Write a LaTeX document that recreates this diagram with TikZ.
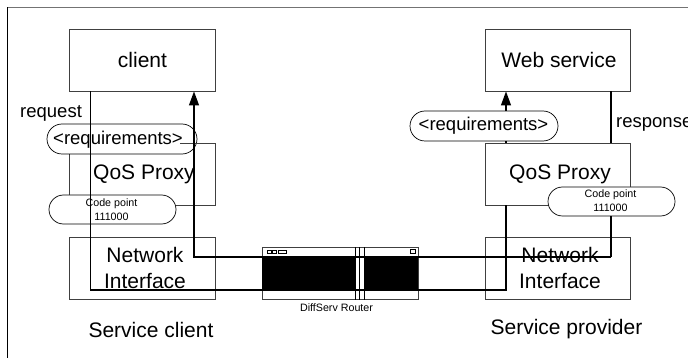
\documentclass[tikz,border=0pt]{standalone}
\usepackage{fontspec}
\setmainfont{Liberation Sans}
\usetikzlibrary{arrows.meta,shapes.misc}
\newcommand{\fs}[1]{\fontsize{#1}{#1}\selectfont}
\tikzset{
  box/.style={draw=black!75,line width=0.9pt,fill=white,minimum width=145.5pt,minimum height=62pt,inner sep=0pt,align=center,font=\fs{20}},
  pill/.style={draw=black,line width=0.7pt,fill=white,rounded rectangle,rounded rectangle arc length=180,inner sep=0pt,align=center},
  reqpill/.style={pill,minimum width=150pt,minimum height=30pt,font=\fs{18.5}},
  codepill/.style={pill,minimum width=127pt,minimum height=29pt},
  link/.style={draw=black,line width=1.3pt},
  up/.style={link,-{Triangle[length=14pt,width=10pt]}},
  lbl/.style={inner sep=0pt,font=\fs{18.5}},
  small/.style={inner sep=0pt,font=\fs{10.7}},
  big/.style={inner sep=0pt,font=\fs{21},align=center},
}
\begin{document}
\begin{tikzpicture}[x=1pt,y=-1pt]
\useasboundingbox (0,0) rectangle (688,358);
\fill[white] (0,0) rectangle (688,358);
\draw[black!55,line width=1.5pt] (7.5,7.5) -- (688,7.5);
\draw[black,line width=0.9pt] (7.5,358) -- (7.5,7);
% boxes
\node[box] (client) at (142.5,60) {};
\node[box] (qosl) at (142.5,174) {};
\node[box] (netl) at (142.5,268) {};
\node[box] (web) at (558,60) {};
\node[box] (qosr) at (558,174) {};
\node[box] (netr) at (558,268) {};
% router
\node[draw=black!75,line width=0.9pt,fill=white,minimum width=156pt,minimum height=52.5pt,inner sep=0pt] (router) at (340,273.25) {};
\fill[black] (262,256) rectangle (355,291);
\fill[black] (364,256) rectangle (418,291);
\foreach \xa/\xb in {267/271,272.5/276.5,278/286.5}{\draw[black,line width=0.8pt] (\xa,250.5) rectangle (\xb,253);}
\draw[black,line width=0.8pt] (410,249) rectangle (415,253.5);
\draw[black,line width=0.8pt] (355,247) -- (355,299.5) (359.5,247) -- (359.5,299.5) (364,247) -- (364,299.5);
\draw[black!75,line width=0.9pt] (262,256) -- (418,256);
% pills
\node[reqpill] (reql) at (122,139) {};
\node[reqpill,minimum width=148pt] (reqr) at (484,126) {\hspace*{-1pt}<requirements>};
\node[codepill] (codel) at (112.5,209.5) {};
\draw[black!75,line width=0.9pt] (180,143) -- (215,143);
% connectors
\coordinate (a1) at (90.5,290);
\coordinate (a2) at (506,290);
\coordinate (b1) at (194,257);
\coordinate (b2) at (611,257);
\draw[link] (client.south -| a1) -- (a1) -- (a2) -- (qosr.south -| a2);
\draw[up] (b2) -- (b1) -- (client.south -| b1);
\draw[up] (reqr.north -| a2) -- (web.south -| a2);
\draw[link] (qosr.north -| a2) -- (reqr.south -| a2);
\draw[link] (web.south -| b2) -- (qosr.north -| b2);
\node[codepill] (coder) at (611.5,201.5) {};
\draw[link] (coder.south -| b2) -- (b2);
% texts
\node[big] at (client.center) {client};
\node[big] at (559,60) {Web service};
\node[big] at (144,174) {QoS Proxy};
\node[big] at (560,174) {QoS Proxy};
\node[big] at (145,268) {Network\\[5pt]Interface};
\node[big] at (560,268) {Network\\[5pt]Interface};
\node[font=\fs{18.5},inner sep=0pt] at (118,139.5) {<requirements>};
\node[small,align=center] at (111.5,209.5) {Code point\\[3pt]111000};
\node[small,align=center] at (610.5,201) {Code point\\[3pt]111000};
\node[lbl,anchor=west] at (20,113) {request};
\node[lbl,anchor=west] at (616,124) {response};
\node[small] at (336.5,308) {DiffServ Router};
\node[big] at (151,329.5) {Service client};
\node[big] at (566.5,329.5) {Service provider};
\end{tikzpicture}
\end{document}
